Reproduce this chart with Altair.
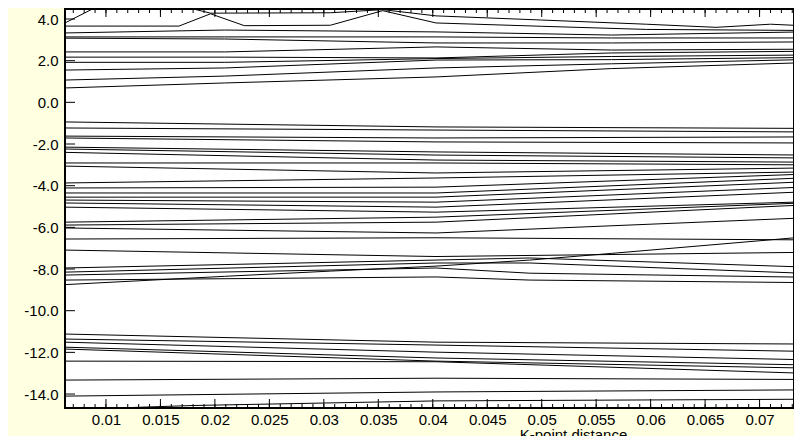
import altair as alt
import pandas as pd

# ---------------- data ----------------
# column positions (K-point distance) where band energies were read
X5 = [0.0062, 0.0209, 0.0403, 0.0564, 0.0739]
X3 = [0.0062, 0.0403, 0.0739]

# two top bands with crossings / bumps
TOP1_X = [0.0062, 0.0094, 0.0167, 0.0196, 0.0306, 0.0354, 0.0403, 0.0500, 0.0596, 0.0660, 0.0710, 0.0739]
TOP1_Y = [3.80, 4.65, 4.65, 4.28, 4.30, 4.45, 4.15, 3.95, 3.75, 3.60, 3.75, 3.68]
TOP2_X = [0.0062, 0.0167, 0.0196, 0.0227, 0.0306, 0.0354, 0.0403, 0.0500, 0.0596, 0.0739]
TOP2_Y = [3.66, 3.66, 4.25, 3.68, 3.70, 4.40, 3.81, 3.65, 3.50, 3.45]

# upper bands, values at X5
UPPER = [
    [3.33, 3.47, 3.38, 3.23, 3.38],
    [3.14, 3.14, 3.14, 3.09, 3.09],
    [3.08, 3.04, 2.85, 2.85, 2.90],
    [2.42, 2.42, 2.66, 2.51, 2.55],
    [2.17, 2.17, 2.13, 2.37, 2.45],
    [1.92, 1.92, 2.10, 2.20, 2.27],
    [1.55, 1.65, 2.03, 2.05, 2.15],
    [1.07, 1.26, 1.65, 1.85, 2.05],
    [0.69, 0.93, 1.22, 1.62, 1.90],
]

# middle bands, values at X3 (left, middle, right)
MID_L = [-0.94, -1.23, -1.62, -1.71, -2.15, -2.24, -2.40, -2.91, -3.06, -3.87, -4.11,
         -4.35, -4.55, -4.69, -4.83, -5.03, -5.75, -5.89, -6.03, -6.56, -7.09]
MID_M = [-1.18, -1.33, -1.71, -1.90, -2.38, -2.53, -2.77, -2.91, -3.39, -3.63, -4.07,
         -4.35, -4.55, -4.79, -5.03, -5.27, -5.51, -5.75, -6.27, -6.50, -7.40]
MID_R = [-1.25, -1.42, -1.66, -1.95, -2.53, -2.67, -2.87, -3.00, -3.15, -3.34, -3.45,
         -3.63, -3.82, -4.07, -4.30, -4.78, -4.83, -4.93, -5.55, -6.60, -7.20]

# bands around -8
E_X = [0.0062, 0.0403, 0.0489, 0.0739]
E_BANDS = [
    [-7.95, -7.57, -7.47, -7.90],
    [-8.15, -7.71, -7.71, -8.20],
    [-8.29, -7.95, -8.20, -8.39],
    [-8.53, -8.38, -8.53, -8.65],
]
DIAG_X = [0.0062, 0.0209, 0.0306, 0.0403, 0.0489, 0.0564, 0.0739]
DIAG_Y = [-8.75, -8.35, -8.10, -7.86, -7.57, -7.25, -6.47]

# lower bands, values at X3
LOWER = [
    [-11.12, -11.51, -11.60],
    [-11.36, -11.65, -11.95],
    [-11.51, -11.99, -12.35],
    [-11.75, -12.27, -12.60],
    [-11.84, -12.42, -12.75],
    [-12.42, -12.45, -13.00],
    [-13.33, -13.24, -13.30],
    [-14.10, -13.90, -13.80],
]
BOT_X = [0.0062, 0.0180, 0.0403, 0.0739]
BOT_Y = [-14.75, -14.55, -14.33, -14.25]

# axis ticks / labels
X_MAJOR = [0.01, 0.015, 0.02, 0.025, 0.03, 0.035, 0.04, 0.045, 0.05, 0.055, 0.06, 0.065, 0.07]
X_MINOR = [round(0.007 + 0.001 * i, 3) for i in range(67)]
Y_MAJOR = [-14, -12, -10, -8, -6, -4, -2, 0, 2, 4]

# ---------------- build table ----------------
rows = []


def add(name, xs_, ys_):
    for xv, yv in zip(xs_, ys_):
        rows.append({"band": name, "x": xv, "y": yv})


add("top1", TOP1_X, TOP1_Y)
add("top2", TOP2_X, TOP2_Y)
for i, vals in enumerate(UPPER):
    add(f"u{i}", X5, vals)
for i, (a, b, c) in enumerate(zip(MID_L, MID_M, MID_R)):
    add(f"m{i}", X3, [a, b, c])
for i, vals in enumerate(E_BANDS):
    add(f"e{i}", E_X, vals)
add("diag", DIAG_X, DIAG_Y)
for i, vals in enumerate(LOWER):
    add(f"w{i}", X3, vals)
add("bot", BOT_X, BOT_Y)

df = pd.DataFrame(rows)

W, H = 729, 399
XD = [0.00624, 0.07316]
YD = [-14.67, 4.48]
xs = alt.Scale(domain=XD, nice=False, zero=False)
ys = alt.Scale(domain=YD, nice=False, zero=False)

lines = alt.Chart(df).mark_line(color="black", strokeWidth=1, clip=True).encode(
    x=alt.X("x:Q", scale=xs,
            axis=alt.Axis(values=X_MAJOR, format=".3~f", labelPadding=4,
                          title="K-point distance", titleFontSize=15,
                          titleFont="Liberation Sans", titleFontWeight="normal",
                          titleColor="black", titleX=508, titleY=19,
                          titleBaseline="top", titleAlign="center")),
    y=alt.Y("y:Q", scale=ys,
            axis=alt.Axis(values=Y_MAJOR, title=None, labelPadding=7,
                          labelExpr="(datum.value < 0 ? '-' : '') + format(abs(datum.value), '.1f')")),
    detail="band:N",
    order="x:Q",
)

xmaj = pd.DataFrame({"x": X_MAJOR})
xmin = pd.DataFrame({"x": X_MINOR})
ymaj = pd.DataFrame({"y": Y_MAJOR})


def xticks(data, y0, y1):
    return alt.Chart(data).mark_rule(color="black", strokeWidth=1, clip=True).encode(
        x=alt.X("x:Q", scale=xs),
        y=alt.value(y0), y2=alt.value(y1))


bot_major = xticks(xmaj, H, H - 9)
bot_minor = xticks(xmin, H, H - 4)
top_major = xticks(xmaj, 0, 8)
top_minor = xticks(xmin, 0, 4)
yt = alt.Chart(ymaj).mark_rule(color="black", strokeWidth=1, clip=True).encode(
    y=alt.Y("y:Q", scale=ys),
    x=alt.value(0), x2=alt.value(10))

chart = alt.layer(lines, bot_major, bot_minor, top_major, top_minor, yt).properties(
    width=W, height=H,
    autosize=alt.AutoSizeParams(type="none"),
    padding={"left": 57, "top": 1, "right": 0, "bottom": 28},
    background="#FFFFE1",
).configure_view(
    fill="white", stroke="black", strokeWidth=2
).configure_axis(
    labelFont="Liberation Sans", labelFontSize=15, labelColor="black",
    domain=False, ticks=False, grid=False,
)

chart.save("out.html", embed_options={"renderer": "svg", "actions": False})
